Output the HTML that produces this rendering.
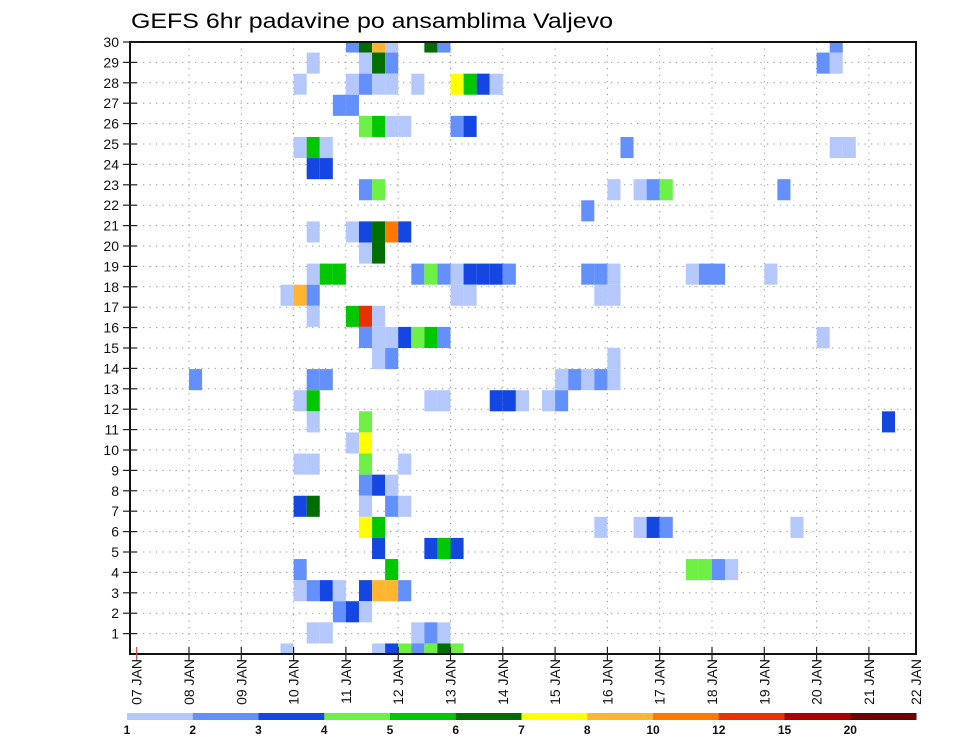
<!DOCTYPE html>
<html><head><meta charset="utf-8"><title>GEFS 6hr padavine</title>
<style>html,body{margin:0;padding:0;background:#fff}svg{display:block;font-family:"Liberation Sans",sans-serif}</style>
</head><body>
<svg id="chart" width="960" height="742" viewBox="0 0 960 742" xmlns="http://www.w3.org/2000/svg">
<defs><clipPath id="plotclip"><rect x="130" y="42" width="786" height="612"/></clipPath></defs>
<text x="131" y="28" font-size="21" textLength="482" lengthAdjust="spacingAndGlyphs">GEFS 6hr padavine po ansamblima Valjevo</text>
<g id="grid"></g>
<g id="cells" clip-path="url(#plotclip)"></g>
<rect x="130" y="42" width="786" height="612" fill="none" stroke="#111" stroke-width="2"/>
<g id="axes"></g>
<g id="legend"></g>
</svg>
<script>
const dayLabels = ["07 JAN","08 JAN","09 JAN","10 JAN","11 JAN","12 JAN","13 JAN","14 JAN","15 JAN","16 JAN","17 JAN","18 JAN","19 JAN","20 JAN","21 JAN","22 JAN"];
const memberTicks = [1,2,3,4,5,6,7,8,9,10,11,12,13,14,15,16,17,18,19,20,21,22,23,24,25,26,27,28,29,30];
const levelBounds = [1,2,3,4,5,6,7,8,10,12,15,20];
const levelColors = ["#b4c8fc","#6490fc","#1446e2","#6ef046","#00c800","#006e00","#ffff00","#ffb432","#ff7800","#e63200","#aa0000","#6e0000"];
const cellMember = [
29,29,29,29,29,29,29,
28,28,28,28,28,28,
27,27,27,27,27,27,27,27,27,27,
26,26,
25,25,25,25,25,25,
24,24,24,24,24,24,
23,23,
22,22,22,22,22,22,22,
21,
20,20,20,20,20,20,
19,19,
18,18,18,18,18,18,18,18,18,18,18,18,18,18,18,18,18,18,
17,17,17,17,17,17,17,
16,16,16,16,
15,15,15,15,15,15,15,15,
14,14,14,
13,13,13,13,13,13,13,13,
12,12,12,12,12,12,12,12,12,
11,11,11,
10,10,
9,9,9,9,
8,8,8,
7,7,7,7,7,
6,6,6,6,6,6,6,
5,5,5,5,
4,4,4,4,4,4,
3,3,3,3,3,3,3,3,
2,2,2,
1,1,1,1,1,
0,0,0,0,0,0,0,0];
const cellStep = [
16,17,18,19,22,23,53,
13,17,18,19,52,53,
12,16,17,18,19,21,24,25,26,27,
15,16,
17,18,19,20,24,25,
12,13,14,37,53,54,
13,14,
17,18,36,38,39,40,49,
34,
13,16,17,18,19,20,
17,18,
13,14,15,21,22,23,24,25,26,27,28,34,35,36,42,43,44,48,
11,12,13,24,25,35,36,
13,16,17,18,
17,18,19,20,21,22,23,52,
18,19,36,
4,13,14,32,33,34,35,36,
12,13,22,23,27,28,29,31,32,
13,17,57,
16,17,
12,13,17,20,
17,18,19,
12,13,17,19,20,
17,18,35,38,39,40,50,
18,22,23,24,
12,19,42,43,44,45,
12,13,14,15,17,18,19,20,
15,16,17,
13,14,21,22,23,
11,18,19,20,21,22,23,24];
const cellPrecip = [
2.5,6.5,9,1.5,6.5,2.5,2.5,
1.5,1.5,6.5,2.5,2.5,1.5,
1.5,1.5,2.5,1.5,1.5,1.5,7.5,5.5,3.5,1.5,
2.5,2.5,
4.5,5.5,1.5,1.5,2.5,3.5,
1.5,5.5,1.5,2.5,1.5,1.5,
3.5,3.5,
2.5,4.5,1.5,1.5,2.5,4.5,2.5,
2.5,
1.5,1.5,3.5,6.5,11,3.5,
1.5,6.5,
1.5,5.5,5.5,2.5,4.5,2.5,1.5,3.5,3.5,3.5,2.5,2.5,2.5,1.5,1.5,2.5,2.5,1.5,
1.5,9,2.5,1.5,1.5,1.5,1.5,
1.5,5.5,13,1.5,
2.5,1.5,1.5,3.5,4.5,5.5,2.5,1.5,
1.5,2.5,1.5,
2.5,2.5,2.5,1.5,2.5,1.5,2.5,1.5,
1.5,5.5,1.5,1.5,3.5,3.5,1.5,1.5,2.5,
1.5,4.5,3.5,
1.5,7.5,
1.5,1.5,4.5,1.5,
2.5,3.5,1.5,
3.5,6.5,1.5,2.5,1.5,
7.5,5.5,1.5,1.5,3.5,2.5,1.5,
3.5,3.5,5.5,3.5,
2.5,5.5,4.5,4.5,2.5,1.5,
1.5,2.5,3.5,1.5,3.5,9,9,2.5,
2.5,3.5,1.5,
1.5,1.5,1.5,2.5,1.5,
1.5,1.5,3.5,4.5,2.5,4.5,6.5,4.5];

const NS = "http://www.w3.org/2000/svg";
const X0 = 136.7, DAYW = 52.3, PL = 130, PR = 916, PT = 42, PB = 654;
const NMEMB = 29;
function xDay(t){ return X0 + t*DAYW; }
function yAxis(v){ return PB - v*(PB-PT)/30; }
function yMember(m){ return PB - m*(PB-PT)/NMEMB; }
function colorFor(v){ let c = null; for(let i=0;i<levelBounds.length;i++){ if(v>=levelBounds[i]) c = levelColors[i]; } return c; }
function mk(tag, attrs, parent){ const e=document.createElementNS(NS,tag); for(const k in attrs) e.setAttribute(k, attrs[k]); parent.appendChild(e); return e; }

const grid = document.getElementById('grid');
for(let d=1; d<dayLabels.length; d++){
  const x = xDay(d);
  if(x>PR) continue;
  const l = mk('line',{x1:x,y1:PT,x2:x,y2:PB,stroke:'#999','stroke-width':1,'stroke-dasharray':'1.3,5.2'},grid);
  
  
}
memberTicks.forEach(v=>{
  const y = yAxis(v);
  const l = mk('line',{x1:PL,y1:y,x2:PR,y2:y,stroke:'#999','stroke-width':1,'stroke-dasharray':'1.3,5.2'},grid);
  
  
});

const cells = document.getElementById('cells');
const cw = DAYW/4, ch = (PB-PT)/NMEMB;
for(let i=0;i<cellPrecip.length;i++){
  const col = colorFor(cellPrecip[i]);
  if(!col) continue;
  const r = mk('rect',{x:xDay(cellStep[i]/4), y:yMember(cellMember[i])-ch/2, width:cw, height:ch, fill:col},cells);
  
  
}

const axes = document.getElementById('axes');
memberTicks.forEach(v=>{
  const y = yAxis(v);
  mk('line',{x1:PL-7,y1:y,x2:PL+7,y2:y,stroke:'#222','stroke-width':1.2},axes);
  const t = mk('text',{x:119,y:y+5,'font-size':14,'text-anchor':'end',fill:'#111'},axes);
  t.textContent = v;
  
  
});
dayLabels.forEach((lab,d)=>{
  let x = xDay(d);
  if(x>PR) x = PR;
  if(d<dayLabels.length-1) mk('line',{x1:x,y1:PB-7,x2:x,y2:PB+7,stroke: d===0?'#c44':'#222','stroke-width':1.2},axes);
  const t = mk('text',{x:0,y:0,'font-size':14,'text-anchor':'end',fill:'#111',transform:`translate(${x+5},659) rotate(-90)`},axes);
  t.textContent = lab;
  
  
});

const legend = document.getElementById('legend');
const LX0 = 127, LW = (916-127)/levelColors.length;
levelColors.forEach((c,i)=>{
  const r = mk('rect',{x:LX0+i*LW,y:713,width:LW+0.5,height:7,fill:c},legend);
  
  
});
levelBounds.forEach((b,i)=>{
  const t = mk('text',{x:LX0+i*LW,y:734,'font-size':12,'font-weight':'bold','text-anchor':'middle',fill:'#111'},legend);
  t.textContent = b;
  
  
});
</script>
</body></html>
